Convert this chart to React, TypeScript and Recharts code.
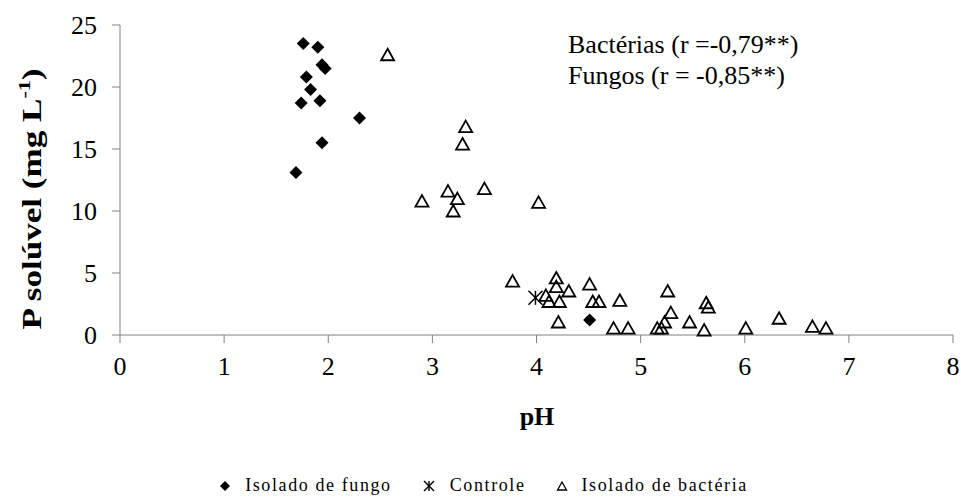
import React from 'react';
import { ScatterChart, Scatter, XAxis, YAxis, Legend } from 'recharts';

const fungoPH = [1.76, 1.90, 1.94, 1.97, 1.79, 1.83, 1.74, 1.92, 2.30, 1.94, 1.69, 4.51];
const fungoP = [23.5, 23.2, 21.8, 21.5, 20.8, 19.8, 18.7, 18.9, 17.5, 15.5, 13.1, 1.2];

const controlePH = [3.99];
const controleP = [3.0];

const bacteriaPH = [2.57, 3.32, 3.29, 3.15, 3.24, 3.50, 2.90, 4.02, 3.20, 3.77, 4.19, 4.19, 4.31, 4.09, 4.12, 4.22, 4.21, 4.51, 4.54, 4.60, 4.80, 4.74, 4.88, 5.26, 5.29, 5.23, 5.16, 5.20, 5.47, 5.63, 5.65, 5.61, 6.01, 6.33, 6.65, 6.78];
const bacteriaP = [22.6, 16.8, 15.4, 11.6, 11.0, 11.8, 10.8, 10.7, 10.0, 4.35, 4.6, 3.9, 3.55, 3.2, 2.7, 2.7, 1.05, 4.1, 2.7, 2.7, 2.8, 0.55, 0.55, 3.55, 1.8, 1.05, 0.55, 0.55, 1.05, 2.6, 2.25, 0.4, 0.55, 1.35, 0.7, 0.55];

const xTicks = [0, 1, 2, 3, 4, 5, 6, 7, 8];
const yTicks = [0, 5, 10, 15, 20, 25];

const seriesNames = ['Isolado de fungo', 'Controle', 'Isolado de bactéria'];
const annotations = ['Bactérias (r =-0,79**)', 'Fungos (r = -0,85**)'];

const toPoints = (xs: number[], ys: number[]) => xs.map((x, i) => ({ ph: x, p: ys[i] }));
const fungoData = toPoints(fungoPH, fungoP);
const controleData = toPoints(controlePH, controleP);
const bacteriaData = toPoints(bacteriaPH, bacteriaP);

const FONT = '"Liberation Serif", "Times New Roman", serif';
const AXIS = '#808080';

const Diamond = (props: any) => {
  const { cx, cy } = props;
  const r = 6.5;
  return <polygon points={`${cx},${cy - r} ${cx + r},${cy} ${cx},${cy + r} ${cx - r},${cy}`} fill="#000" />;
};

const Triangle = (props: any) => {
  const { cx, cy } = props;
  return (
    <polygon
      points={`${cx},${cy - 6} ${cx + 6.5},${cy + 5.5} ${cx - 6.5},${cy + 5.5}`}
      fill="none"
      stroke="#000"
      strokeWidth={1.8}
    />
  );
};

const Asterisk = (props: any) => {
  const { cx, cy } = props;
  const r = 7;
  return (
    <g stroke="#000" strokeWidth={1.5}>
      <line x1={cx - r} y1={cy - r} x2={cx + r} y2={cy + r} />
      <line x1={cx - r} y1={cy + r} x2={cx + r} y2={cy - r} />
      <line x1={cx} y1={cy - r} x2={cx} y2={cy + r} />
    </g>
  );
};

const legendIcons = [
  <svg width={12} height={12}><polygon points="6,1 11,6 6,11 1,6" fill="#000" /></svg>,
  <svg width={14} height={14}><g stroke="#000" strokeWidth={1.4}><line x1={2} y1={2} x2={12} y2={12} /><line x1={2} y1={12} x2={12} y2={2} /><line x1={7} y1={2} x2={7} y2={12} /></g></svg>,
  <svg width={12} height={12}><polygon points="6,2 10.5,10 1.5,10" fill="none" stroke="#000" strokeWidth={1.3} /></svg>,
];

const LegendContent = () => (
  <div style={{ display: 'flex', justifyContent: 'center', alignItems: 'center', fontFamily: FONT, fontSize: 18, letterSpacing: 1.6, color: '#000', paddingLeft: 6 }}>
    {seriesNames.map((n, i) => (
      <div key={n} style={{ display: 'flex', alignItems: 'center', marginRight: i < 2 ? 30 : 0 }}>
        <span style={{ display: 'inline-flex', marginRight: 14 }}>{legendIcons[i]}</span>
        <span>{n}</span>
      </div>
    ))}
  </div>
);

const YLabel = () => (
  <text
    x={0}
    y={0}
    transform="translate(41 199) rotate(-90) scale(1.3 1)"
    textAnchor="middle"
    fontFamily={FONT}
    fontWeight="bold"
    fontSize={27}
    fill="#000"
  >
    <tspan>P solúvel (mg L</tspan>
    <tspan fontSize={17} dy={-11}>-1</tspan>
    <tspan dy={11}>)</tspan>
  </text>
);

const XLabel = () => (
  <text x={537} y={425} textAnchor="middle" fontFamily={FONT} fontWeight="bold" fontSize={26} fill="#000">
    pH
  </text>
);

export default function App() {
  return (
    <div style={{ position: 'absolute', left: 0, top: 0, width: 961, height: 503, background: '#fff' }}>
      <ScatterChart width={961} height={503} margin={{ top: 25, right: 8, bottom: 0, left: 0 }}>
        <XAxis
          type="number"
          dataKey="ph"
          domain={[0, 8]}
          ticks={xTicks}
          height={168}
          tickSize={8}
          tickMargin={14}
          stroke={AXIS}
          tick={{ fill: '#000', fontFamily: FONT, fontSize: 26 }}
          label={<XLabel />}
          interval={0}
        />
        <YAxis
          type="number"
          dataKey="p"
          domain={[0, 25]}
          ticks={yTicks}
          width={120}
          tickSize={8}
          tickMargin={15}
          stroke={AXIS}
          tick={{ fill: '#000', fontFamily: FONT, fontSize: 26 }}
          label={<YLabel />}
          interval={0}
        />
        <Legend
          layout="vertical"
          align="center"
          verticalAlign="middle"
          content={<LegendContent />}
          wrapperStyle={{ top: 475, left: 0, width: 961 }}
        />
        <Scatter name={seriesNames[1]} data={controleData} shape={<Asterisk />} isAnimationActive={false} />
        <Scatter name={seriesNames[2]} data={bacteriaData} shape={<Triangle />} isAnimationActive={false} />
        <Scatter name={seriesNames[0]} data={fungoData} shape={<Diamond />} isAnimationActive={false} />
      </ScatterChart>
      <svg style={{ position: 'absolute', left: 0, top: 0, pointerEvents: 'none' }} width={961} height={503}>
        <text x={568} y={53} fontFamily={FONT} fontSize={26} fill="#000">{annotations[0]}</text>
        <text x={568} y={84} fontFamily={FONT} fontSize={26} fill="#000">{annotations[1]}</text>
      </svg>
    </div>
  );
}
